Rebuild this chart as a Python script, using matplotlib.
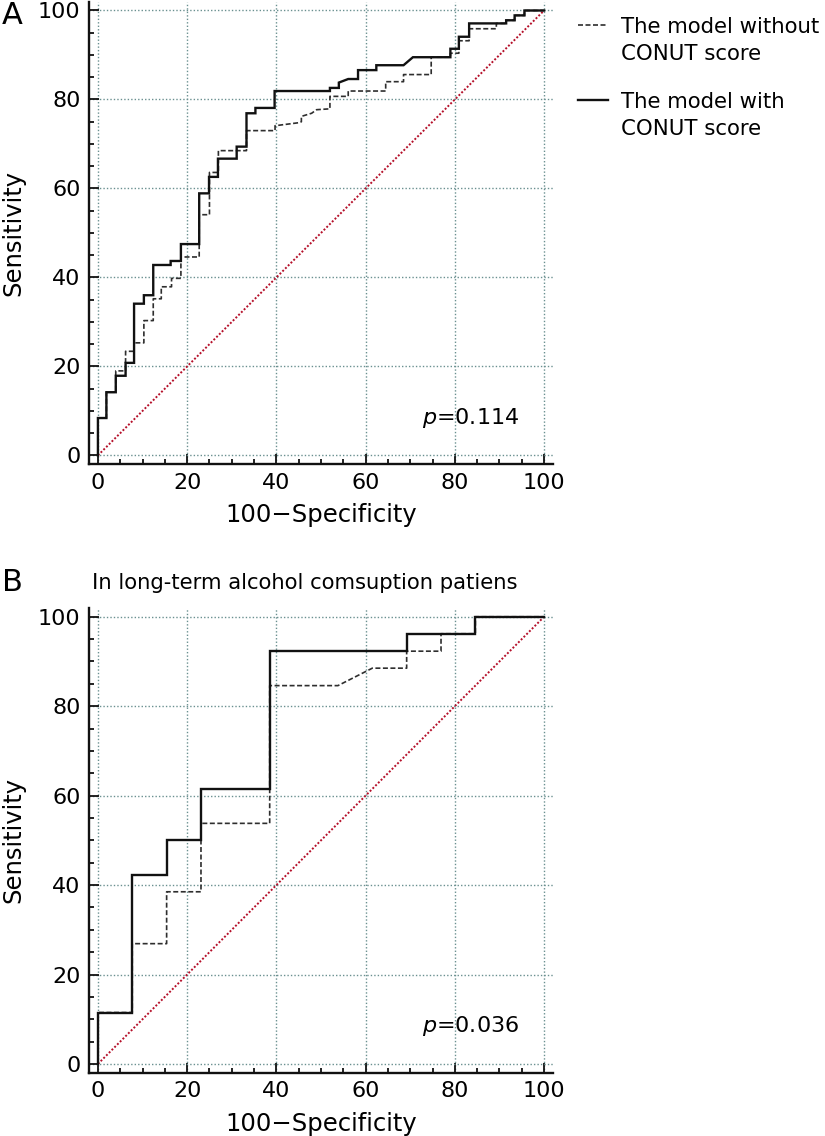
import matplotlib.pyplot as plt
from matplotlib.lines import Line2D
from matplotlib.ticker import MultipleLocator

plt.rcParams["font.family"] = ["DejaVu Sans"]

# --- Panel A: all patients (ROC vertices) ---
a_with_x = [0, 0, 1.9, 1.9, 4.0, 4.0, 6.2, 6.2, 8.1, 8.1, 10.3, 10.3, 12.4, 12.4,
            16.3, 16.3, 18.6, 18.6, 22.7, 22.7, 24.9, 24.9, 26.9, 26.9, 31.1, 31.1,
            33.3, 33.3, 35.3, 35.3, 39.6, 39.6, 52.0, 52.0, 54.0, 54.0, 56.1, 58.3,
            58.3, 62.4, 62.4, 68.5, 70.6, 79.0, 79.0, 80.9, 80.9, 83.2, 83.2, 91.5,
            91.5, 93.4, 93.4, 95.6, 95.6, 100]
a_with_y = [0, 8.4, 8.4, 14.2, 14.2, 17.9, 17.9, 20.8, 20.8, 34.1, 34.1, 36.0, 36.0, 42.8,
            42.8, 43.7, 43.7, 47.5, 47.5, 58.9, 58.9, 62.6, 62.6, 66.7, 66.7, 69.4,
            69.4, 76.9, 76.9, 78.1, 78.1, 81.9, 81.9, 82.6, 82.6, 83.8, 84.6, 84.6,
            86.6, 86.6, 87.7, 87.7, 89.5, 89.5, 91.4, 91.4, 94.1, 94.1, 97.1, 97.1,
            97.8, 97.8, 98.9, 98.9, 100, 100]

a_without_x = [0, 0, 1.9, 1.9, 4.0, 4.0, 6.2, 6.2, 8.1, 8.1, 10.3, 10.3, 12.4, 12.4,
               14.2, 14.2, 16.5, 16.5, 18.6, 18.6, 22.7, 22.7, 25.0, 25.0, 27.0, 27.0,
               33.3, 33.3, 39.7, 39.7, 45.2, 45.6, 45.6, 47.9, 49.0, 52.0, 52.0, 56.1,
               56.1, 64.5, 64.5, 68.5, 68.5, 74.7, 74.7, 79.0, 79.0, 80.9, 80.9, 83.2,
               83.2, 89.3, 89.3, 91.5, 91.5, 93.4, 93.4, 95.6, 95.6, 100]
a_without_y = [0, 8.4, 8.4, 14.2, 14.2, 19.0, 19.0, 23.4, 23.4, 25.3, 25.3, 30.3, 30.3, 35.2,
               35.2, 37.9, 37.9, 39.8, 39.8, 44.6, 44.6, 54.1, 54.1, 63.6, 63.6, 68.5,
               68.5, 73.0, 73.0, 74.1, 74.8, 75.0, 76.2, 76.9, 77.7, 77.9, 80.7, 80.7,
               81.9, 81.9, 84.0, 84.0, 85.6, 85.6, 89.5, 89.5, 90.4, 90.4, 93.2, 93.2,
               95.9, 95.9, 97.1, 97.1, 97.8, 97.8, 98.9, 98.9, 100, 100]

# --- Panel B: long-term alcohol consumption patients ---
b_with_x = [0, 0, 7.7, 7.7, 15.4, 15.4, 23.1, 23.1, 38.5, 38.5, 69.2, 69.2, 84.6, 84.6, 100]
b_with_y = [0, 11.5, 11.5, 42.3, 42.3, 50.0, 50.0, 61.5, 61.5, 92.3, 92.3, 96.2, 96.2, 100, 100]

b_without_x = [0, 0, 7.7, 7.7, 15.4, 15.4, 23.1, 23.1, 38.5, 38.5, 53.8, 61.5, 69.2, 69.2,
               76.9, 76.9, 84.6, 84.6, 100]
b_without_y = [0, 11.5, 11.5, 26.9, 26.9, 38.5, 38.5, 53.8, 53.8, 84.6, 84.6, 88.5, 88.5,
               92.3, 92.3, 96.2, 96.2, 100, 100]

p_values = ["0.114", "0.036"]
legend_labels = [("The model without", "CONUT score"), ("The model with", "CONUT score")]
ticks = [0, 20, 40, 60, 80, 100]

W, H = 825, 1136
TICK_FS = 16
LABEL_FS = 17.5
LEGEND_FS = 15.3

dashed_style = dict(color="#2e2e2e", lw=1.2, linestyle=(0, (3, 1.5)))
solid_style = dict(color="#111111", lw=1.7, solid_joinstyle="miter")


def style_axis(ax):
    ax.set_xlim(-2, 102)
    ax.set_ylim(-2, 102)
    ax.set_xticks(ticks)
    ax.set_yticks(ticks)
    ax.xaxis.set_minor_locator(MultipleLocator(5))
    ax.yaxis.set_minor_locator(MultipleLocator(5))
    for side in ["top", "right"]:
        ax.spines[side].set_visible(False)
    for side in ["left", "bottom"]:
        ax.spines[side].set_linewidth(1.7)
        ax.spines[side].set_color("#111111")
    ax.tick_params(which="both", direction="in", width=1.3, color="#111111")
    ax.tick_params(which="major", length=7, labelsize=TICK_FS, pad=6)
    ax.tick_params(which="minor", length=3.8)
    ax.grid(True, which="major", color="#6a9090", lw=1.0, linestyle=(0, (1, 1.5)))
    ax.set_axisbelow(True)
    ax.plot([0, 100], [0, 100], color="#b5102a", lw=1.4, linestyle=(0, (1, 1)), zorder=2)
    ax.set_xlabel("100\u2212Specificity", fontsize=LABEL_FS)
    ax.set_ylabel("Sensitivity", fontsize=LABEL_FS)
    ax.xaxis.set_label_coords(0.5, -0.11)
    ax.xaxis.label.set_va("center")
    ax.yaxis.set_label_coords(-0.162, 0.5)
    ax.yaxis.label.set_va("center")


fig = plt.figure(figsize=(W / 100, H / 100), dpi=100)
axA = fig.add_axes([89 / W, 1 - 464.3 / H, 464 / W, 462.7 / H])
axB = fig.add_axes([89 / W, 1 - 1072.9 / H, 464 / W, 465.1 / H])

for ax, wx, wy, ox, oy, p in [(axA, a_with_x, a_with_y, a_without_x, a_without_y, p_values[0]),
                              (axB, b_with_x, b_with_y, b_without_x, b_without_y, p_values[1])]:
    style_axis(ax)
    ax.plot(ox, oy, zorder=3, **dashed_style)
    ax.plot(wx, wy, zorder=4, **solid_style)
    ax.text(83.5, 8.5, r"$p$=" + p, fontsize=TICK_FS, ha="center", va="center")

# panel letters and title
fig.text(12 / W, 1 - 16 / H, "A", fontsize=22, ha="center", va="center")
fig.text(12 / W, 1 - 582.5 / H, "B", fontsize=22, ha="center", va="center")
fig.text(92 / W, 1 - 583 / H, "In long-term alcohol comsuption patiens",
         fontsize=15.2, ha="left", va="center")

# legend drawn by hand so the key line sits on the first text line
for (line1, line2), style, y0 in zip(legend_labels, [dashed_style, solid_style], [25, 100]):
    fig.add_artist(Line2D([578 / W, 608 / W], [1 - y0 / H, 1 - y0 / H],
                          transform=fig.transFigure, **style))
    fig.text(621 / W, 1 - (y0 + 8) / H, line1, fontsize=LEGEND_FS, va="baseline")
    fig.text(621 / W, 1 - (y0 + 35) / H, line2, fontsize=LEGEND_FS, va="baseline")

fig.savefig("out.png", dpi=100)
